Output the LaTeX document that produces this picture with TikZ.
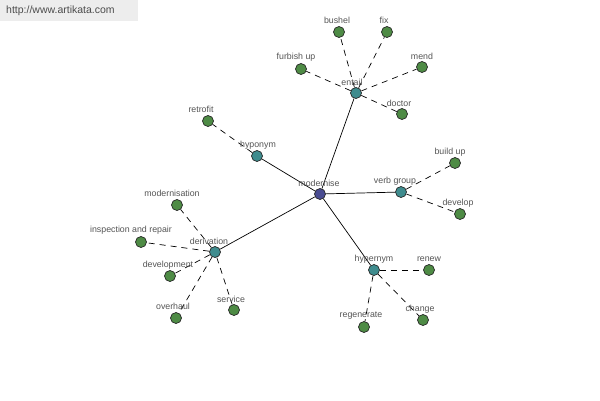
\documentclass[tikz,border=0pt]{standalone}
\usepackage{fontspec}
\setmainfont{Liberation Sans}
\definecolor{leaf}{HTML}{4E8B45}
\definecolor{rel}{HTML}{3F8C8E}
\definecolor{root}{HTML}{4A4C92}
\definecolor{lbl}{HTML}{555555}
\begin{document}
\begin{tikzpicture}[x=1pt,y=-1pt,
  dot/.style={circle,draw=black!85,line width=0.7pt,minimum size=11pt,inner sep=0pt},
  leafdot/.style={dot,fill=leaf},
  reldot/.style={dot,fill=rel},
  rootdot/.style={dot,fill=root},
  lab/.style={font=\fontsize{8.8}{9}\selectfont,text=lbl,inner sep=0pt},
  solidedge/.style={draw=black,line width=0.7pt},
  dashedge/.style={draw=black,line width=0.7pt,dash pattern=on 6pt off 5pt}]
\useasboundingbox (0,0) rectangle (600,400);
\fill[white] (0,0) rectangle (600,400);
\fill[black!7] (0,0) rectangle (138,21);
\node[font=\fontsize{10.5}{11}\selectfont,text=black!70,anchor=west,inner sep=0pt] (wm) at (6,11) {http://www.artikata.com};
% nodes
\node[rootdot] (modernise) at (320,194) {};
\node[reldot] (entail) at (356,93) {};
\node[reldot] (hyponym) at (257,156) {};
\node[reldot] (verbgroup) at (401,192) {};
\node[reldot] (derivation) at (215,252) {};
\node[reldot] (hypernym) at (374,270) {};
\node[leafdot] (bushel) at (339,32) {};
\node[leafdot] (fix) at (387,32) {};
\node[leafdot] (furbish) at (301,69) {};
\node[leafdot] (mend) at (422,67) {};
\node[leafdot] (doctor) at (402,114) {};
\node[leafdot] (retrofit) at (208,121) {};
\node[leafdot] (buildup) at (455,163) {};
\node[leafdot] (develop) at (460,214) {};
\node[leafdot] (modernisation) at (177,205) {};
\node[leafdot] (inspection) at (141,242) {};
\node[leafdot] (development) at (170,276) {};
\node[leafdot] (overhaul) at (176,318) {};
\node[leafdot] (service) at (234,310) {};
\node[leafdot] (renew) at (429,270) {};
\node[leafdot] (change) at (423,320) {};
\node[leafdot] (regenerate) at (364,327) {};
% edges
\foreach \r in {entail,hyponym,verbgroup,derivation,hypernym}
  \path[solidedge] (modernise) -- (\r);
\foreach \a/\b in {entail/bushel,entail/fix,entail/furbish,entail/mend,entail/doctor,
  hyponym/retrofit,verbgroup/buildup,verbgroup/develop,
  derivation/modernisation,derivation/inspection,derivation/development,derivation/overhaul,derivation/service,
  hypernym/renew,hypernym/change,hypernym/regenerate}
  \path[dashedge] (\a) -- (\b);
% labels
\node[lab] (lmodernise) at (319,183) {modernise};
\node[lab] (lentail) at (352,82) {entail};
\node[lab] (lhyponym) at (258,145) {hyponym};
\node[lab] (lverbgroup) at (395,181) {verb group};
\node[lab] (lderivation) at (209,241) {derivation};
\node[lab] (lhypernym) at (374,259) {hypernym};
\node[lab] (lbushel) at (337,20) {bushel};
\node[lab] (lfix) at (384,20) {fix};
\node[lab] (lfurbish) at (296,57) {furbish up};
\node[lab] (lmend) at (422,56) {mend};
\node[lab] (ldoctor) at (399,103) {doctor};
\node[lab] (lretrofit) at (201,109) {retrofit};
\node[lab] (lbuildup) at (450,152) {build up};
\node[lab] (ldevelop) at (458,203) {develop};
\node[lab] (lmodernisation) at (172,193) {modernisation};
\node[lab] (linspection) at (131,230) {inspection and repair};
\node[lab] (ldevelopment) at (168,265) {development};
\node[lab] (loverhaul) at (173,306) {overhaul};
\node[lab] (lservice) at (231,299) {service};
\node[lab] (lrenew) at (429,259) {renew};
\node[lab] (lchange) at (420,309) {change};
\node[lab] (lregenerate) at (361,316) {regenerate};
\end{tikzpicture}
\end{document}
